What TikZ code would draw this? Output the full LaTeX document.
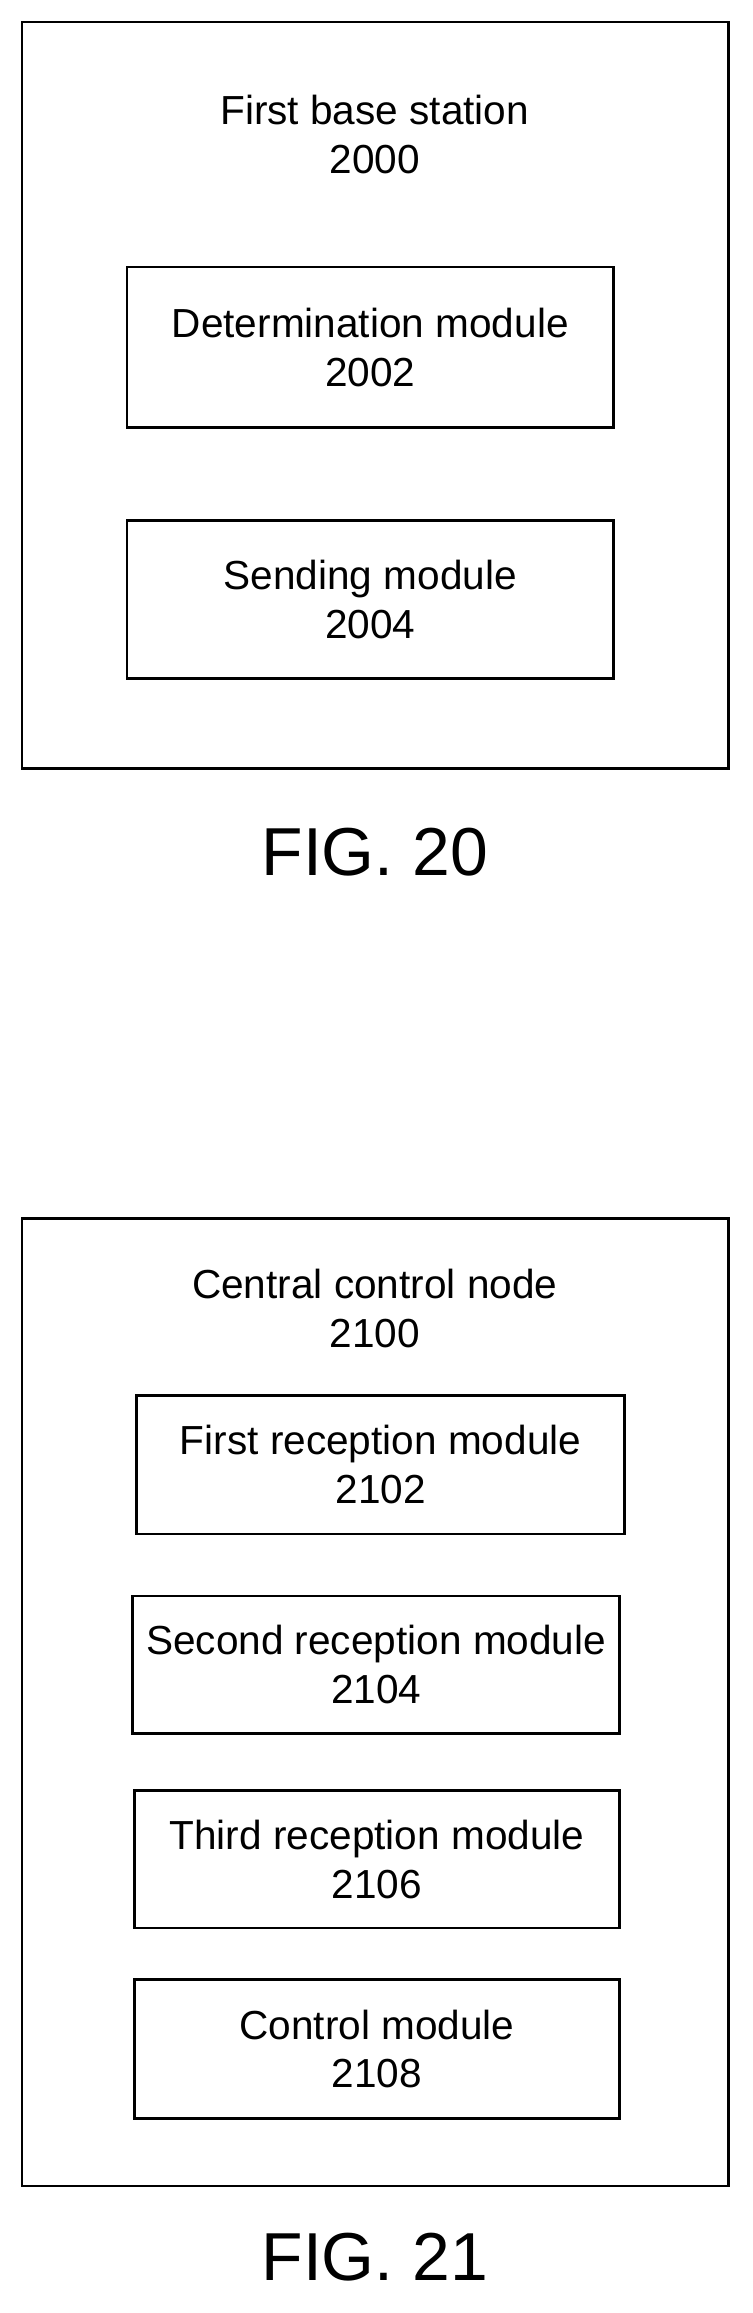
\documentclass[tikz,border=0pt]{standalone}
\usepackage{fontspec}
\setmainfont{Liberation Sans}
\begin{document}
\begin{tikzpicture}[x=1pt,y=1pt,line width=1.8pt,
  box/.style={draw,align=center,font=\fontsize{27.5}{33}\selectfont},
  lbl/.style={align=center,font=\fontsize{27.5}{33}\selectfont},
  fig/.style={font=\fontsize{46}{50}\selectfont}]
\useasboundingbox (0,0) rectangle (510,-1568);
% FIG. 20
\draw (15,-15) rectangle (494,-521);
\node[lbl] (bs) at (254,-91) {First base station\\2000};
\node[box,minimum width=330,minimum height=109] (det) at (251,-235.5) {Determination module\\2002};
\node[box,minimum width=330,minimum height=107] (snd) at (251,-406.5) {Sending module\\2004};
\node[fig] (f20) at (254,-578) {FIG. 20};
% FIG. 21
\draw (15,-826) rectangle (494,-1482);
\node[lbl] (ccn) at (254,-887) {Central control node\\2100};
\node[box,minimum width=331,minimum height=94] (r1) at (258,-993) {First reception module\\2102};
\node[box,minimum width=330,minimum height=93] (r2) at (255,-1128.5) {Second reception module\\2104};
\node[box,minimum width=329,minimum height=93] (r3) at (255.5,-1260.5) {Third reception module\\2106};
\node[box,minimum width=329,minimum height=94] (ctl) at (255.5,-1389) {Control module\\2108};
\node[fig] (f21) at (254,-1530) {FIG. 21};
\end{tikzpicture}
\end{document}
